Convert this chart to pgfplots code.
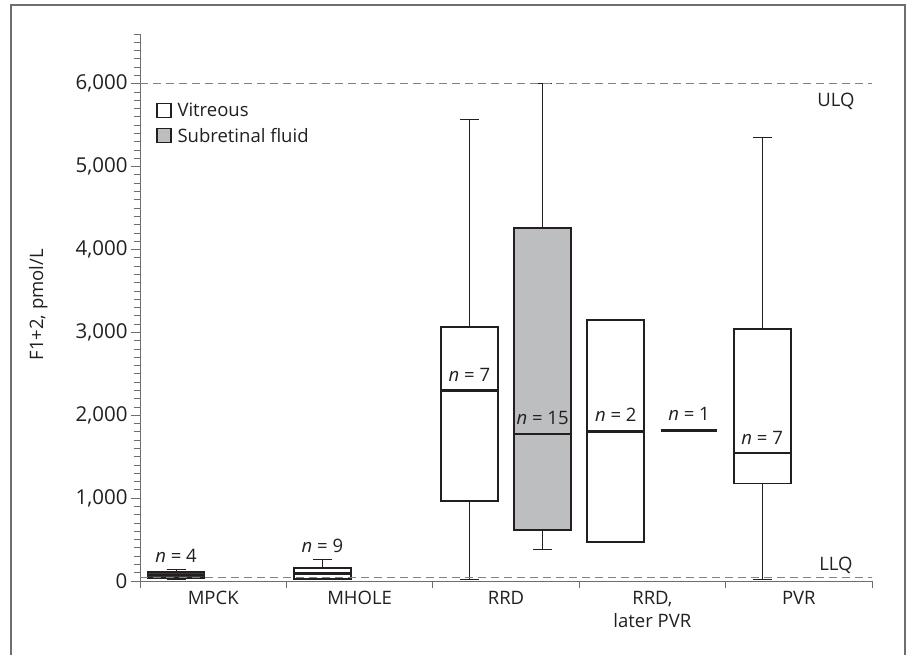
\documentclass[border=0pt]{standalone}
\usepackage{fontspec}
\setmainfont{Open Sans}
\usepackage{pgfplots}
\pgfplotsset{compat=1.18}
\usepgfplotslibrary{statistics}
\definecolor{ink}{HTML}{231F20}
\definecolor{axisgray}{HTML}{6D6E71}
\definecolor{dashgray}{HTML}{808285}
\definecolor{srf}{HTML}{BCBEC0}
\definecolor{mpck}{HTML}{3A3A3C}
\newcommand{\ff}{\fontsize{18.5}{23}\selectfont}
\newcommand{\tf}{\fontsize{20.5}{23}\selectfont}
\newcommand{\nl}[1]{{\itshape n} = #1}
\begin{document}
\begin{tikzpicture}[x=1pt,y=1pt]
\path[use as bounding box] (0,0) rectangle (909,-655);
\draw[axisgray, line width=1.3pt] (11,-665) -- (11,-5) -- (905,-5) -- (905,-665);
\begin{axis}[
  at={(140pt,-581pt)}, anchor=south west,
  scale only axis, width=732pt, height=547pt,
  xmin=0, xmax=5, ymin=0, ymax=6600,
  axis lines=left, axis line style={-, axisgray, line width=1pt},
  clip=false,
  xtick={0.5,1.5,2.5,3.5,4.5},
  xticklabels={MPCK, MHOLE, RRD, {RRD,\\later PVR}, PVR},
  minor xtick={0,1,2,3,4,5},
  ytick={0,1000,...,6000},
  minor ytick={0,100,...,6600},
  tick align=outside,
  major tick length=9pt, minor tick length=6.5pt,
  tick style={axisgray, line width=0.8pt},
  major x tick style={draw=none},
  xticklabel style={font=\ff, text=ink, align=center, anchor=north, inner sep=0pt, yshift=-1pt},
  yticklabel style={font=\tf, text=ink},
  /pgf/number format/1000 sep={,},
  /pgf/number format/assume math mode=true,
  scaled y ticks=false,
  ylabel={F1+2, pmol/L},
  ylabel style={font=\ff, text=ink, at={(rel axis cs:-0.139,0.505)}, anchor=center},
  boxplot/draw direction=y,
  boxplot/box extend=0.39,
  boxplot/whisker extend=0.13,
  boxplot/every box/.style={draw=ink, line width=1.8pt},
  boxplot/every median/.style={draw=ink, line width=2.6pt},
  boxplot/every whisker/.style={draw=ink, line width=1pt},
  legend style={at={(rel axis cs:0.0219,0.878)}, anchor=north west, draw=none, fill=none, font=\ff, text=ink, row sep=6pt, inner sep=0pt},
  legend cell align=left,
]
\addlegendimage{legend image code/.code={\draw[ink, line width=1.3pt, fill=white] (0pt,-7pt) rectangle (14pt,7pt);}}
\addlegendentry{\hspace*{4pt}Vitreous}
\addlegendimage{legend image code/.code={\draw[ink, line width=1.3pt, fill=srf] (0pt,-7pt) rectangle (14pt,7pt);}}
\addlegendentry{\hspace*{4pt}Subretinal fluid}

% MPCK
\addplot[draw=ink, fill=mpck, boxplot prepared={lower whisker=20, lower quartile=36, median=72, upper quartile=108, upper whisker=141, draw position=0.246}] coordinates {};
% MHOLE
\addplot[draw=ink, fill=white, boxplot prepared={lower whisker=20, lower quartile=24, median=93, upper quartile=160, upper whisker=265, draw position=1.246}] coordinates {};
% RRD vitreous
\addplot[draw=ink, fill=white, boxplot prepared={lower whisker=20, lower quartile=967, median=2301, upper quartile=3064, upper whisker=5566, draw position=2.25}] coordinates {};
% RRD subretinal fluid
\addplot[draw=ink, fill=srf, boxplot prepared={lower whisker=382, lower quartile=614, median=1775, upper quartile=4257, upper whisker=6000, draw position=2.75}] coordinates {};
% RRD later PVR vitreous
\addplot[draw=ink, fill=white, boxplot prepared={lower whisker=473, lower quartile=473, median=1807, upper quartile=3148, upper whisker=3148, draw position=3.25}] coordinates {};
% RRD later PVR, n = 1
\addplot[ink, line width=2.6pt] coordinates {(3.557,1819) (3.943,1819)};
% PVR
\addplot[draw=ink, fill=white, boxplot prepared={lower whisker=20, lower quartile=1177, median=1546, upper quartile=3040, upper whisker=5349, draw position=4.25}] coordinates {};

% limits of quantification
\addplot[dashgray, line width=0.9pt, dash pattern=on 8pt off 5pt] coordinates {(0,6000) (5,6000)};
\addplot[dashgray, line width=0.9pt, dash pattern=on 8pt off 5pt] coordinates {(0,40) (5,40)};

\node[anchor=base, font=\ff, text=ink] at (axis cs:4.754,5723) {ULQ};
\node[anchor=base, font=\ff, text=ink] at (axis cs:4.754,124) {LLQ};

\node[anchor=base, font=\ff, text=ink] at (axis cs:0.246,221) {\nl{4}};
\node[anchor=base, font=\ff, text=ink] at (axis cs:1.246,346) {\nl{9}};
\node[anchor=base, font=\ff, text=ink] at (axis cs:2.25,2413) {\nl{7}};
\node[anchor=base, font=\ff, text=ink] at (axis cs:2.75,1892) {\nl{15}};
\node[anchor=base, font=\ff, text=ink] at (axis cs:3.25,1920) {\nl{2}};
\node[anchor=base, font=\ff, text=ink] at (axis cs:3.75,1932) {\nl{1}};
\node[anchor=base, font=\ff, text=ink] at (axis cs:4.25,1651) {\nl{7}};
\end{axis}
\end{tikzpicture}
\end{document}
